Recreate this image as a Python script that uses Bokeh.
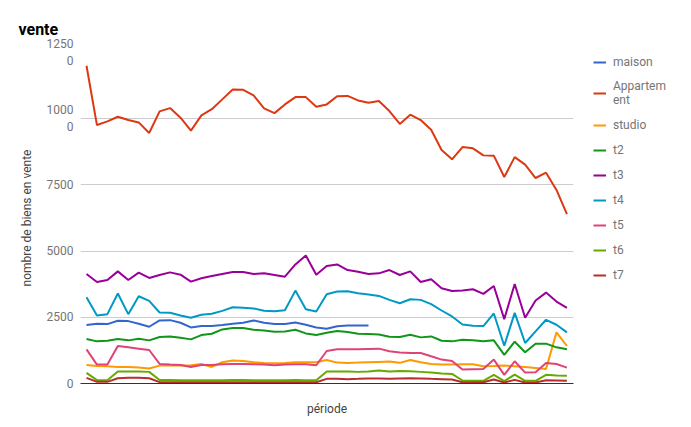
import numpy as np
from bokeh.plotting import figure
from bokeh.models import Range1d, Legend, LegendItem, FixedTicker
from bokeh.embed import file_html
from bokeh.resources import INLINE

nan = float('nan')

# 47 periods, no tick labels on the x axis
periods = list(range(47))

maison = [2205, 2255, 2243, 2368, 2356, 2255, 2143, 2381, 2393, 2293,
          2118, 2168, 2168, 2205, 2255, 2293, 2381, 2293, 2243, 2243,
          2306, 2218, 2118, 2068, 2160, 2193, 2193, 2193] + [nan] * 19
appartement = [12000, 9760, 9900, 10075, 9950, 9860, 9460, 10275, 10400, 10040,
               9550, 10125, 10360, 10730, 11105, 11090, 10880, 10390, 10210, 10540,
               10815, 10815, 10450, 10540, 10850, 10860, 10690, 10600, 10665, 10290,
               9800, 10150, 9950, 9585, 8815, 8465, 8930, 8880, 8615, 8605,
               7800, 8550, 8265, 7760, 7960, 7310, 6400]
studio = [702, 664, 651, 626, 626, 601, 564, 676, 676, 676,
          689, 739, 626, 802, 865, 852, 802, 777, 764, 777,
          802, 802, 802, 890, 789, 777, 789, 802, 815, 827,
          780, 890, 802, 739, 714, 714, 727, 727, 652, 664,
          677, 652, 626, 589, 551, 1930, 1416]
t2 = [1679, 1591, 1616, 1679, 1629, 1692, 1629, 1754, 1779, 1729,
      1666, 1829, 1880, 2042, 2093, 2093, 2030, 2005, 1955, 1967,
      2030, 1892, 1829, 1917, 1980, 1945, 1880, 1867, 1854, 1767,
      1754, 1842, 1742, 1779, 1616, 1591, 1654, 1629, 1591, 1629,
      1078, 1579, 1178, 1504, 1504, 1366, 1291]
t3 = [4135, 3834, 3909, 4235, 3909, 4185, 3985, 4097, 4197, 4110,
      3847, 3972, 4060, 4135, 4210, 4210, 4135, 4160, 4097, 4035,
      4498, 4837, 4110, 4436, 4498, 4285, 4223, 4135, 4160, 4285,
      4097, 4235, 3834, 3934, 3596, 3496, 3508, 3559, 3383, 3684,
      2431, 3759, 2481, 3133, 3433, 3095, 2857]
t4 = [3258, 2569, 2619, 3396, 2619, 3295, 3120, 2681, 2669, 2569,
      2481, 2594, 2631, 2744, 2882, 2857, 2832, 2744, 2731, 2769,
      3508, 2807, 2719, 3371, 3471, 3483, 3408, 3358, 3308, 3158,
      3032, 3183, 3158, 2995, 2757, 2531, 2230, 2180, 2168, 2644,
      1428, 2669, 1529, 1967, 2406, 2218, 1930]
t5 = [1290, 714, 714, 1416, 1366, 1316, 1265, 739, 714, 702,
      626, 702, 702, 727, 739, 739, 727, 714, 689, 714,
      727, 727, 689, 1228, 1290, 1290, 1290, 1303, 1316, 1215,
      1170, 1150, 1153, 1027, 902, 852, 526, 539, 551, 902,
      326, 840, 413, 426, 777, 739, 601]
t6 = [401, 125, 125, 451, 451, 451, 439, 130, 130, 125,
      120, 125, 125, 125, 130, 130, 125, 125, 125, 125,
      130, 125, 120, 451, 451, 451, 439, 451, 489, 451,
      470, 464, 439, 413, 376, 363, 113, 100, 100, 326,
      88, 338, 100, 100, 326, 301, 288]
t7 = [213, 63, 63, 200, 213, 213, 200, 50, 50, 45,
      45, 45, 45, 45, 45, 50, 45, 45, 45, 45,
      50, 45, 45, 175, 175, 163, 175, 188, 188, 175,
      190, 200, 188, 175, 163, 150, 50, 50, 50, 150,
      38, 138, 38, 38, 125, 113, 100]

names = ['maison', 'Appartem\nent', 'studio', 't2', 't3', 't4', 't5', 't6', 't7']
series = [maison, appartement, studio, t2, t3, t4, t5, t6, t7]
colors = ['#3366cc', '#dc3912', '#ff9900', '#109618', '#990099',
          '#0099c6', '#dd4477', '#66aa00', '#b82e2e']

y_ticks = [0, 2500, 5000, 7500, 10000, 12500]

p = figure(frame_width=493, frame_height=331, output_backend="svg", toolbar_location=None,
           x_range=Range1d(-0.575, 46.63), y_range=Range1d(0, 12500),
           min_border_left=80, min_border_right=117,
           min_border_top=52, min_border_bottom=43)
p.outline_line_color = None

p.title.text = "vente"
p.title.align = "left"
p.title.offset = -62
p.title.standoff = 28
p.title.text_font = "Roboto"
p.title.text_font_size = "16px"
p.title.text_font_style = "bold"
p.title.text_color = "#000000"

items = []
for name, ys, c in zip(names, series, colors):
    r = p.line(periods, ys, line_width=2, color=c)
    items.append(LegendItem(label=name, renderers=[r]))

# x axis: only the title, the axis line is the zero baseline
p.xaxis.ticker = FixedTicker(ticks=[])
p.xaxis.axis_label = "période"
p.xaxis.axis_label_text_font = "Roboto"
p.xaxis.axis_label_text_font_size = "12px"
p.xaxis.axis_label_text_font_style = "normal"
p.xaxis.axis_label_text_color = "#444444"
p.xaxis.axis_label_standoff = 18
p.xaxis.axis_line_color = "#333333"
p.xaxis.axis_line_width = 1
p.xaxis.major_tick_line_color = None
p.xaxis.minor_tick_line_color = None

p.yaxis.ticker = FixedTicker(ticks=y_ticks)
p.yaxis.major_label_overrides = {10000: "1000\n0", 12500: "1250\n0"}
p.yaxis.axis_label = "nombre de biens en vente"
p.yaxis.axis_label_text_font = "Roboto"
p.yaxis.axis_label_text_font_size = "12px"
p.yaxis.axis_label_text_font_style = "normal"
p.yaxis.axis_label_text_color = "#444444"
p.yaxis.axis_label_standoff = 10
p.yaxis.major_label_text_font = "Roboto"
p.yaxis.major_label_text_font_size = "12px"
p.yaxis.major_label_text_color = "#757575"
p.yaxis.major_label_standoff = 7
p.yaxis.major_tick_out = 0
p.yaxis.major_tick_in = 0
p.yaxis.axis_line_color = None
p.yaxis.major_tick_line_color = None
p.yaxis.minor_tick_line_color = None

p.xgrid.grid_line_color = None
p.ygrid.grid_line_color = "#cccccc"
p.ygrid.ticker = FixedTicker(ticks=y_ticks[1:])

legend = Legend(items=items, location=(20, 101), orientation="vertical")
legend.glyph_width = 13
legend.glyph_height = 12
legend.label_standoff = 7
legend.label_height = 15
legend.spacing = 10
legend.padding = 20
legend.margin = 0
legend.border_line_color = None
legend.background_fill_alpha = 0
legend.label_text_font = "Roboto"
legend.label_text_font_size = "12px"
legend.label_text_color = "#757575"
p.add_layout(legend, "right")

open("out.html", "w").write(file_html(p, INLINE))
